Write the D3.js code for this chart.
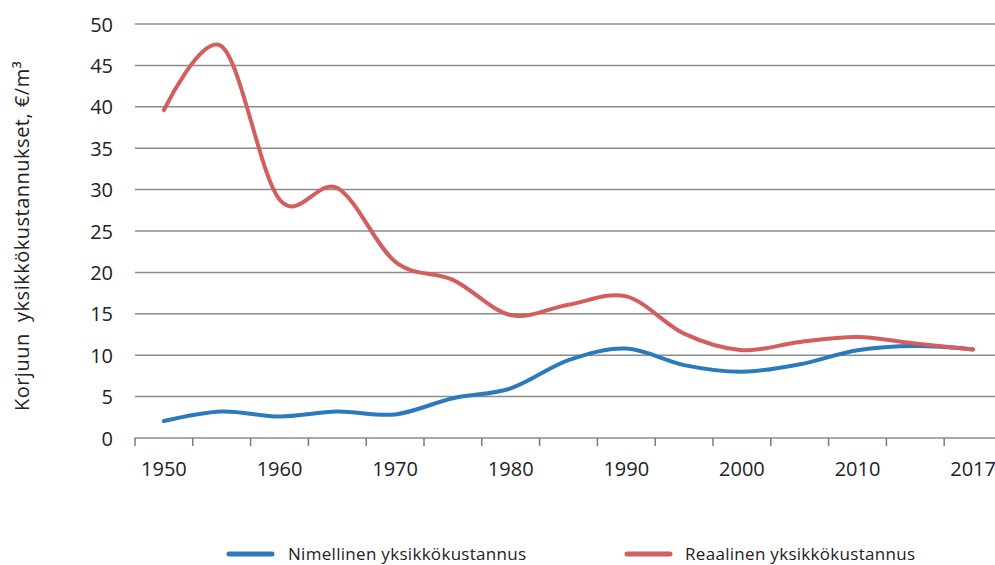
<!DOCTYPE html>
<html>
<head>
<meta charset="utf-8">
<script src="https://cdn.jsdelivr.net/npm/d3@7"></script>
<style>
  html, body { margin: 0; padding: 0; background: #fff; }
  svg { display: block; }
  text { font-family: "Open Sans", "DejaVu Sans", sans-serif; fill: #222; }
</style>
</head>
<body>
<svg id="chart" width="995" height="565"></svg>
<script>
const years = ["1950","1955","1960","1965","1970","1975","1980","1985","1990","1995","2000","2005","2010","2015","2017"];
const labeledYears = ["1950","1960","1970","1980","1990","2000","2010","2017"];
const nominal = [2.05, 3.2, 2.6, 3.2, 2.85, 4.8, 6.0, 9.4, 10.8, 8.8, 8.0, 8.9, 10.6, 11.1, 10.7];
const real = [39.6, 47.3, 28.8, 30.2, 21.3, 19.1, 14.85, 16.1, 17.1, 12.6, 10.6, 11.6, 12.2, 11.4, 10.7];
const yTicks = [0, 5, 10, 15, 20, 25, 30, 35, 40, 45, 50];
const seriesNames = ["Nimellinen yksikkökustannus", "Reaalinen yksikkökustannus"];
const seriesColors = ["#2a7abd", "#d45d5d"];
const yTitle = "Korjuun  yksikkökustannukset, €/m³";

const svg = d3.select("#chart");
const left = 135, bandW = 57.8;
const x = d3.scaleBand().domain(years).range([left, left + bandW * years.length]).padding(0);
const y = d3.scaleLinear().domain([0, 50]).range([438, 24]);

// gridlines
svg.append("g").selectAll("line").data(yTicks.filter(d => d > 0)).join("line")
  .attr("x1", left).attr("x2", 995)
  .attr("y1", d => y(d)).attr("y2", d => y(d))
  .attr("stroke", "#8c8c8c").attr("stroke-width", 1.5);

// y axis labels
const yAxis = d3.axisLeft(y).tickValues(yTicks).tickSize(0).tickPadding(0);
const gy = svg.append("g").attr("transform", "translate(113,0)").call(yAxis);
gy.select(".domain").remove();
gy.selectAll("text").style("font-size", "20px").attr("dy", "0.35em").attr("fill", "#222");

// x axis baseline
svg.append("line").attr("x1", left).attr("x2", 995).attr("y1", y(0)).attr("y2", y(0))
  .attr("stroke", "#8c8c8c").attr("stroke-width", 1.5);
// tick marks at category boundaries
const bounds = years.map(d => x(d)).concat([x(years[years.length - 1]) + x.bandwidth()]);
svg.append("g").selectAll("line").data(bounds).join("line")
  .attr("x1", d => d).attr("x2", d => d)
  .attr("y1", y(0)).attr("y2", y(0) + 8)
  .attr("stroke", "#7a7a7a").attr("stroke-width", 1.5);

// x labels
const xAxis = d3.axisBottom(x).tickValues(labeledYears).tickSize(0).tickPadding(0);
const gx = svg.append("g").attr("transform", "translate(0,476)").call(xAxis);
gx.select(".domain").remove();
gx.selectAll("text").style("font-size", "20px").attr("dy", "0").attr("fill", "#222");

// lines
const line = d3.line()
  .x((d, i) => x(years[i]) + x.bandwidth() / 2)
  .y(d => y(d))
  .curve(d3.curveCatmullRom.alpha(0));

[nominal, real].forEach((s, i) => {
  svg.append("path").datum(s)
    .attr("d", line)
    .attr("fill", "none")
    .attr("stroke", seriesColors[i])
    .attr("stroke-width", 4)
    .attr("stroke-linecap", "round")
    .attr("stroke-linejoin", "round");
});

// y title
svg.append("text")
  .attr("transform", "translate(29,236) rotate(-90)")
  .attr("text-anchor", "middle")
  .style("font-size", "20px")
  .style("letter-spacing", "0.5px")
  .style("white-space", "pre")
  .text(yTitle);

// legend
const legendPos = [{lx: 229, tx: 288}, {lx: 627, tx: 685}];
seriesNames.forEach((n, i) => {
  const p = legendPos[i];
  svg.append("line").attr("x1", p.lx).attr("x2", p.lx + 43).attr("y1", 554).attr("y2", 554)
    .attr("stroke", seriesColors[i]).attr("stroke-width", 5).attr("stroke-linecap", "round");
  svg.append("text").attr("x", p.tx).attr("y", 560)
    .style("font-size", "17px").style("letter-spacing", "0.3px").text(n);
});
</script>
</body>
</html>
